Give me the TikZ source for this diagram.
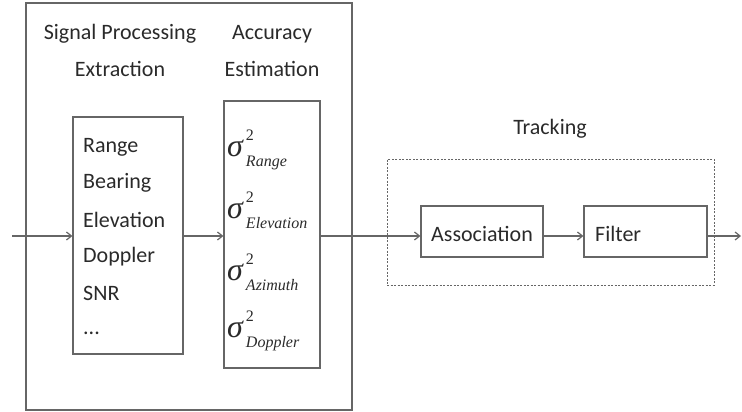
\documentclass[tikz,border=0pt]{standalone}
\usepackage{fontspec}
\setmainfont{Carlito}
\newfontfamily\serfont{Liberation Serif}
\usetikzlibrary{arrows.meta}
\definecolor{ln}{HTML}{666666}
\definecolor{tx}{HTML}{2a2a2a}
\newcommand{\sgm}[1]{{\serfont\fontsize{32}{32}\selectfont\itshape σ}\kern3pt\rlap{\raisebox{16pt}{\serfont\fontsize{16}{16}\selectfont 2}}\raisebox{-10pt}{\serfont\fontsize{16}{16}\selectfont\itshape #1}}
\begin{document}
\begin{tikzpicture}[x=1pt,y=-1pt,
  box/.style={draw=ln,line width=1.2pt,rectangle,inner sep=0pt},
  lbl/.style={text=tx,font=\fontsize{22}{22}\selectfont,inner sep=0pt},
  itm/.style={text=tx,font=\fontsize{22}{22}\selectfont,inner sep=0pt,anchor=west},
  sg/.style={text=tx,inner sep=0pt,anchor=west},
  arr/.style={draw=ln,line width=1.2pt,-{Straight Barb[length=5pt,width=8pt]}}]
\useasboundingbox (0,0) rectangle (742,412);
% outer box
\node[box,minimum width=326pt,minimum height=407pt] (outer) at (189,206.5) {};
\node[lbl] (t1) at (120,34) {Signal Processing};
\node[lbl] (t2) at (120,69) {Extraction};
\node[lbl] (t3) at (272,34) {Accuracy};
\node[lbl] (t4) at (272,69) {Estimation};
% parameter box
\node[box,minimum width=110pt,minimum height=237pt] (par) at (128,235.5) {};
\node[itm] (p1) at (83,147) {Range};
\node[itm] (p2) at (83,183) {Bearing};
\node[itm] (p3) at (83,220) {Elevation};
\node[itm] (p4) at (83,257) {Doppler};
\node[itm] (p5) at (83,293) {SNR};
\node[itm] (p6) at (83,333) {...};
% sigma box
\node[box,minimum width=96pt,minimum height=267pt] (sig) at (272,234.5) {};
\node[sg] (s1) at (227,150) {\sgm{Range}};
\node[sg] (s2) at (227,210) {\sgm{Elevation}};
\node[sg] (s3) at (227,272) {\sgm{Azimuth}};
\node[sg] (s4) at (227,331) {\sgm{Doppler}};
% tracking
\node[lbl] (t5) at (550,129) {Tracking};
\node[draw=ln,line width=1pt,dash pattern=on 2pt off 1.5pt,minimum width=327pt,minimum height=126pt,inner sep=0pt] (trk) at (550.5,222) {};
\node[box,minimum width=122pt,minimum height=51pt] (asc) at (482,231.5) {};
\node[lbl,anchor=west] (asct) at (431,234) {Association};
\node[box,minimum width=123pt,minimum height=51pt] (flt) at (645.5,231.5) {};
\node[lbl,anchor=west] (fltt) at (595,234) {Filter};
% connectors
\coordinate (in) at (12,236);
\coordinate (out) at (741,236);
\draw[arr] (in) -- (par.west|-in);
\draw[arr] (par.east|-in) -- (sig.west|-in);
\draw[arr] (sig.east|-in) -- (asc.west|-in);
\draw[arr] (asc.east|-in) -- (flt.west|-in);
\draw[arr] (flt.east|-in) -- (out);
\end{tikzpicture}
\end{document}
